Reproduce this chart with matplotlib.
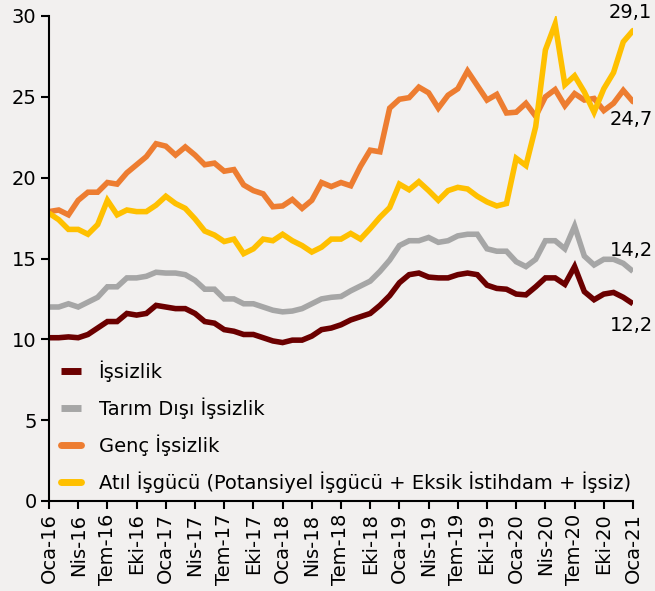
import matplotlib
matplotlib.use("Agg")
from matplotlib import pyplot as plt

# aylik seriler, Oca-16 .. Oca-21 (61 ay)
issizlik = [10.1, 10.1, 10.15, 10.1, 10.3, 10.7, 11.1, 11.1, 11.6, 11.5,
            11.6, 12.1, 12.0, 11.9, 11.9, 11.6, 11.1, 11.0, 10.6, 10.5,
            10.3, 10.3, 10.1, 9.9, 9.8, 9.95, 9.95, 10.2, 10.6, 10.7,
            10.9, 11.2, 11.4, 11.6, 12.1, 12.7, 13.5, 14.0, 14.1, 13.85,
            13.8, 13.8, 14.0, 14.1, 14.0, 13.35, 13.15, 13.1, 12.8, 12.75,
            13.25, 13.8, 13.8, 13.4, 14.5, 12.95, 12.45, 12.8, 12.9, 12.6,
            12.2]
tarim_disi = [12.0, 12.0, 12.2, 12.0, 12.3, 12.6, 13.25, 13.25, 13.8, 13.8,
              13.9, 14.15, 14.1, 14.1, 14.0, 13.65, 13.1, 13.1, 12.5, 12.5,
              12.2, 12.2, 12.0, 11.8, 11.7, 11.75, 11.9, 12.2, 12.5, 12.6,
              12.65, 13.0, 13.3, 13.6, 14.2, 14.9, 15.8, 16.1, 16.1, 16.3,
              16.0, 16.1, 16.4, 16.5, 16.5, 15.6, 15.45, 15.45, 14.8, 14.5,
              14.95, 16.1, 16.1, 15.6, 17.0, 15.15, 14.6, 14.95, 14.95, 14.7,
              14.2]
genc = [17.9, 18.0, 17.7, 18.6, 19.1, 19.1, 19.7, 19.6, 20.3, 20.8,
        21.3, 22.1, 21.95, 21.4, 21.9, 21.4, 20.8, 20.9, 20.4, 20.5,
        19.55, 19.2, 19.0, 18.2, 18.25, 18.65, 18.1, 18.6, 19.7, 19.45,
        19.7, 19.5, 20.7, 21.7, 21.6, 24.3, 24.85, 24.95, 25.6, 25.25,
        24.3, 25.1, 25.5, 26.6, 25.7, 24.8, 25.15, 24.0, 24.05, 24.6,
        23.8, 25.0, 25.45, 24.45, 25.2, 24.8, 24.9, 24.15, 24.6, 25.4,
        24.7]
atil = [17.8, 17.4, 16.8, 16.8, 16.5, 17.1, 18.6, 17.7, 18.0, 17.9,
        17.9, 18.3, 18.85, 18.4, 18.1, 17.45, 16.7, 16.45, 16.05, 16.2,
        15.3, 15.6, 16.2, 16.1, 16.5, 16.1, 15.8, 15.4, 15.7, 16.2,
        16.2, 16.55, 16.2, 16.85, 17.55, 18.15, 19.6, 19.25, 19.75, 19.2,
        18.6, 19.2, 19.4, 19.3, 18.85, 18.5, 18.25, 18.4, 21.2, 20.75,
        23.15, 27.9, 29.5, 25.75, 26.3, 25.3, 24.05, 25.5, 26.5, 28.4,
        29.1]

aylar = ["Oca", "Nis", "Tem", "Eki"]
etiketler = []
for yil in range(16, 22):
    for a in aylar:
        etiketler.append(a + "-" + str(yil))
etiketler = etiketler[:21]

seriler = [
    ("İşsizlik", issizlik, "#6B0000", "butt"),
    ("Tarım Dışı İşsizlik", tarim_disi, "#A6A6A6", "butt"),
    ("Genç İşsizlik", genc, "#ED7D31", "round"),
    ("Atıl İşgücü (Potansiyel İşgücü + Eksik İstihdam + İşsiz)", atil, "#FFC000", "round"),
]

bg = "#F2F0EF"
fig = plt.figure(figsize=(6.55, 5.91), dpi=100, facecolor=bg)
ax = fig.add_axes([49 / 655, 1 - 501 / 591, (633 - 49) / 655, (501 - 16) / 591])
ax.set_facecolor(bg)

x = list(range(len(issizlik)))
for ad, y, renk, cap in seriler:
    ax.plot(x, y, color=renk, lw=4, label=ad, solid_capstyle=cap,
            solid_joinstyle="miter")

ax.set_xlim(0, 60)
ax.set_ylim(0, 30)
ax.set_yticks([0, 5, 10, 15, 20, 25, 30])
ax.set_xticks(range(0, 61, 3))
ax.set_xticklabels(etiketler, rotation=90)
ax.tick_params(labelsize=14, length=6, width=1.5, color="black", pad=3)

for s in ["top", "right"]:
    ax.spines[s].set_visible(False)
for s in ["left", "bottom"]:
    ax.spines[s].set_linewidth(1.5)

# son deger etiketleri
ax.annotate("29,1", (60, atil[-1]), xytext=(-2, 13), textcoords="offset points",
            ha="center", va="center", fontsize=14, annotation_clip=False)
ax.annotate("24,7", (60, genc[-1]), xytext=(-1, -13), textcoords="offset points",
            ha="center", va="center", fontsize=14, annotation_clip=False)
ax.annotate("14,2", (60, tarim_disi[-1]), xytext=(-1, 15), textcoords="offset points",
            ha="center", va="center", fontsize=14, annotation_clip=False)
ax.annotate("12,2", (60, issizlik[-1]), xytext=(-1, -16), textcoords="offset points",
            ha="center", va="center", fontsize=14, annotation_clip=False)

leg = ax.legend(loc="lower left", bbox_to_anchor=(0.0, -0.008), frameon=False,
                fontsize=14, handlelength=1.05, handletextpad=0.9,
                labelspacing=0.8, borderaxespad=0.2)
for h in leg.get_lines():
    h.set_linewidth(5)

fig.savefig("out.png", dpi=100, facecolor=bg)
